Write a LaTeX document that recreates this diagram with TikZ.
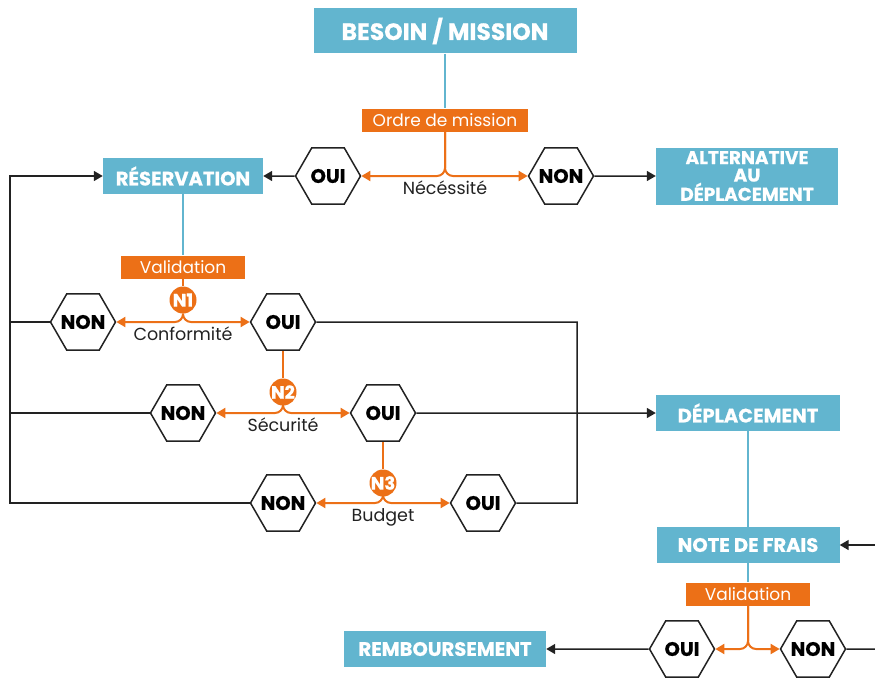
\documentclass[tikz,border=0pt]{standalone}
\usepackage{fontspec}
\setmainfont{Poppins}[BoldFeatures={FakeBold=0.6}]
\usetikzlibrary{shapes.geometric,arrows.meta}
\definecolor{boxBlue}{HTML}{62B5CF}
\definecolor{tagOrange}{HTML}{EC7017}
\definecolor{lineGrey}{HTML}{222222}
\begin{document}
\begin{tikzpicture}
[x=1pt,y=-1pt,
  boxDecorate/.style={fill=boxBlue,text=white,inner sep=0pt,align=center,%
    font=\bfseries\fontsize{19.5}{19.5}\selectfont},
  tagDecorate/.style={fill=tagOrange,text=white,inner sep=0pt,minimum height=23pt,%
    font=\fontsize{17}{17}\selectfont},
  hexDecorate/.style={regular polygon,regular polygon sides=6,minimum size=65pt,%
    inner sep=0pt,draw=lineGrey,line width=1.5pt,fill=white,%
    font=\bfseries\fontsize{19.5}{19.5}\selectfont},
  circleDecorate/.style={circle,fill=tagOrange,text=white,minimum size=27pt,%
    inner sep=0pt,font=\bfseries\fontsize{18}{18}\selectfont},
  labelDecorate/.style={text=lineGrey,inner sep=0pt,font=\fontsize{17.5}{17.5}\selectfont},
  blackLine/.style={draw=lineGrey,line width=1.5pt},
  blackArrow/.style={blackLine,-{Triangle[length=9pt,width=10pt]}},
  blueLine/.style={draw=boxBlue,line width=2pt},
  orangeLine/.style={draw=tagOrange,line width=2pt},
  orangeArrow/.style={orangeLine,rounded corners=8pt,-{Triangle[length=9pt,width=10pt]}}]
\useasboundingbox (0,0) rectangle (875,677);
%% boxes
\foreach \nodename/\x/\y/\w/\h/\txt in {
  reservation/183/176/160/36/{RÉSERVATION},
  deplacement/748/413/184/36/{DÉPLACEMENT},
  notefrais/748/545/183/36/{NOTE DE FRAIS},
  remboursement/445/649/202/36/{REMBOURSEMENT}}
{
  \node (\nodename) at (\x,\y) [boxDecorate,minimum width=\w pt,minimum height=\h pt] {\txt};
}
\node (besoin) at (445,31) [boxDecorate,minimum width=263pt,minimum height=45pt,
  font=\bfseries\fontsize{23.5}{23.5}\selectfont] {BESOIN / MISSION};
\node (alternative) at (747,176) [boxDecorate,minimum width=182pt,minimum height=57pt,
  font=\bfseries\fontsize{18.5}{17.5}\selectfont] {ALTERNATIVE\\AU\\DÉPLACEMENT};
%% tags
\foreach \nodename/\x/\y/\w/\txt in {
  ordre/445/120/166/{Ordre de mission},
  validA/183/267/124/{Validation},
  validB/748/594/124/{Validation}}
{
  \node (\nodename) at (\x,\y) [tagDecorate,minimum width=\w pt] {\txt};
}
%% hexagons
\foreach \nodename/\x/\y/\txt in {
  ouiA/328/176/OUI, nonA/561/176/NON,
  nonB/83/322/NON, ouiB/283/322/OUI,
  nonC/183/413/NON, ouiC/383/413/OUI,
  nonD/283/503/NON, ouiD/483/503/OUI,
  ouiE/682/649/OUI, nonE/813/649/NON}
{
  \node (\nodename) at (\x,\y) [hexDecorate] {\makebox[0pt]{\txt}};
}
%% levels
\foreach \nodename/\x/\y/\txt in {
  nA/183/300/N1, nB/283/392/N2, nC/383/483/N3}
{
  \node (\nodename) at (\x,\y) [circleDecorate] {\makebox[0pt]{\txt}};
}
%% criteria
\foreach \nodename/\x/\y/\txt in {
  necessite/445/188/{Nécéssité}, conformite/183/334/{Conformité},
  securite/283/425/{Sécurité}, budget/383/517/{Budget}}
{
  \node (\nodename) at (\x,\y) [labelDecorate] {\txt};
}
\coordinate (loopTop) at (10,176);
\coordinate (loopRight) at (577,503);
\coordinate (edgeA) at (875,545);
\coordinate (edgeB) at (875,649);
%% blue lines
\foreach \startnode/\endnode in {
  besoin/ordre, reservation/validA, deplacement/notefrais, notefrais/validB}
{
  \draw[blueLine] (\startnode) -- (\endnode);
}
%% orange lines
\foreach \startnode/\endnode in {validA/nA, ouiB/nB, ouiC/nC}
{
  \draw[orangeLine] (\startnode) -- (\endnode);
}
\foreach \startnode/\leftnode/\rightnode in {
  ordre/ouiA/nonA, nA/nonB/ouiB, nB/nonC/ouiC, nC/nonD/ouiD, validB/ouiE/nonE}
{
  \draw[orangeArrow] (\startnode.south) |- (\leftnode.east);
  \draw[orangeArrow] (\startnode.south) |- (\rightnode.west);
}
%% black lines
\foreach \startnode/\endnode in {
  ouiA/reservation, nonA/alternative, ouiC/deplacement,
  edgeA/notefrais, ouiE/remboursement}
{
  \draw[blackArrow] (\startnode) -- (\endnode);
}
\draw[blackLine] (nonE) -- (edgeB);
\draw[blackArrow] (nonD.west) -| (loopTop) -- (reservation.west);
\draw[blackLine] (nonB.west) -- (nonB.west -| loopTop);
\draw[blackLine] (nonC.west) -- (nonC.west -| loopTop);
\draw[blackLine] (ouiB.east) -| (loopRight) -- (ouiD.east);
\end{tikzpicture}
\end{document}
